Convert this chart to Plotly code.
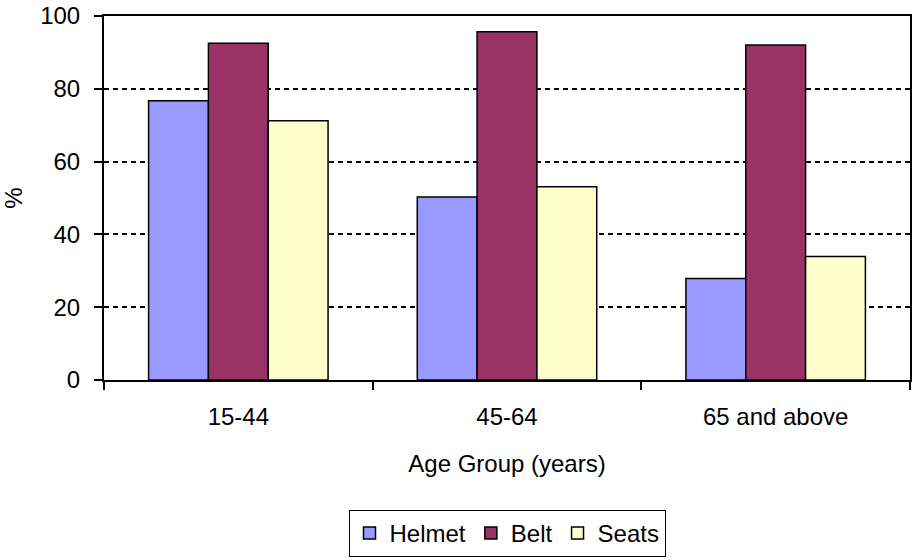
import plotly.graph_objects as go

# Age groups and the share (%) reporting each safety practice
age_groups = ["15-44", "45-64", "65 and above"]
helmet = [76.7, 50.3, 27.9]
belt = [92.5, 95.7, 92.0]
seats = [71.2, 53.1, 33.9]

series_names = ["Helmet", "Belt", "Seats"]
series_colors = ["#9999FF", "#993366", "#FFFFCC"]

FONT = "Liberation Sans, Arial, sans-serif"

fig = go.Figure()
for name, vals, color in zip(series_names, [helmet, belt, seats], series_colors):
    fig.add_trace(go.Bar(
        name=name,
        x=age_groups,
        y=vals,
        marker=dict(color=color, line=dict(color="#000000", width=1.5)),
    ))

fig.update_layout(
    width=914,
    height=560,
    margin=dict(l=104, r=2, t=15, b=180),
    paper_bgcolor="white",
    plot_bgcolor="white",
    barmode="group",
    bargap=0.332,
    bargroupgap=0,
    font=dict(family=FONT, size=24, color="#000000"),
    showlegend=True,
    legend=dict(
        orientation="h",
        x=0.5,
        xanchor="center",
        y=-0.357,
        yanchor="top",
        bordercolor="#000000",
        borderwidth=1,
        font=dict(family=FONT, size=24, color="#000000"),
        itemclick=False,
    ),
)

fig.update_xaxes(
    title=dict(text="Age Group (years)", standoff=26,
               font=dict(family=FONT, size=24)),
    showline=True,
    linecolor="#000000",
    linewidth=2,
    mirror=True,
    ticks="outside",
    tickson="boundaries",
    ticklen=8,
    tickwidth=2,
    tickcolor="#000000",
    ticklabelstandoff=14,
    showgrid=False,
    zeroline=False,
)

fig.update_yaxes(
    title=dict(text="%", standoff=16, font=dict(family=FONT, size=24)),
    range=[0, 100],
    dtick=20,
    showline=True,
    linecolor="#000000",
    linewidth=2,
    mirror=True,
    ticks="outside",
    ticklen=8,
    tickwidth=2,
    tickcolor="#000000",
    ticklabelstandoff=9,
    showgrid=True,
    gridcolor="#000000",
    gridwidth=2,
    griddash="5px,4px",
    zeroline=False,
)

fig.write_html("out.html")
